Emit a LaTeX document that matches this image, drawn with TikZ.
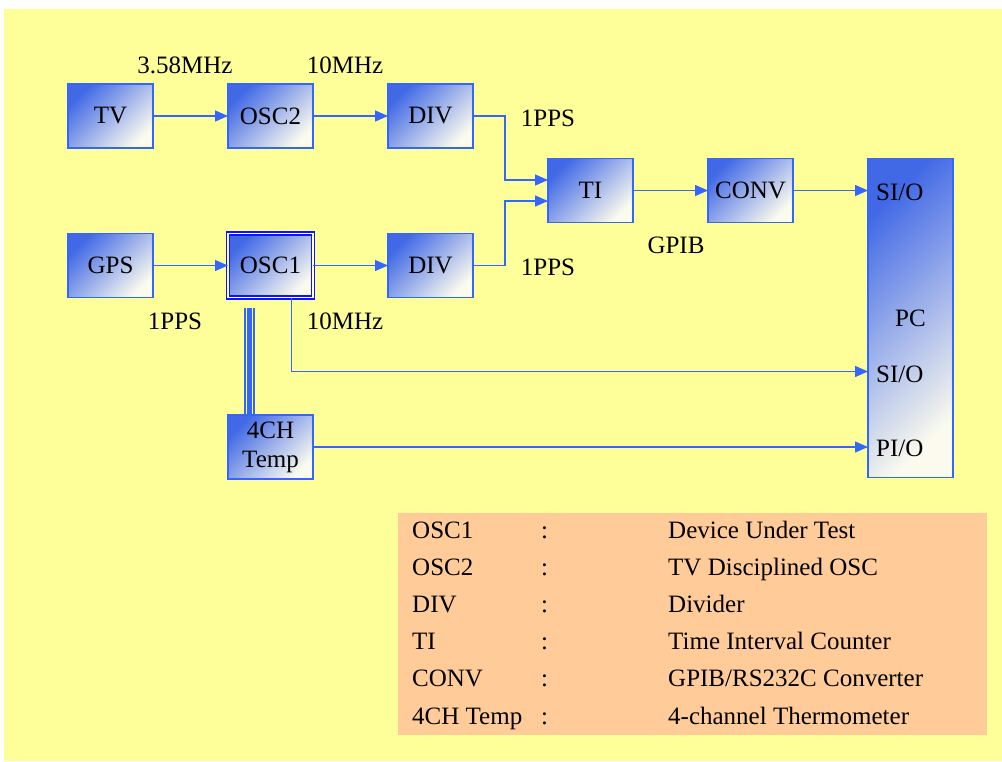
\documentclass[tikz,border=0pt]{standalone}
\usepackage{fontspec}
\setmainfont{Liberation Serif}
\usepackage{tikz}
\usetikzlibrary{arrows.meta,positioning}

\definecolor{bgyellow}{RGB}{255,255,153}
\definecolor{legpeach}{RGB}{255,204,153}
\definecolor{linkblue}{RGB}{51,102,255}
\definecolor{boxblue}{RGB}{65,105,230}
\definecolor{boxwhite}{RGB}{250,250,238}

\tikzset{
  box/.style={draw=linkblue, line width=1.2pt, top color=boxblue, bottom color=boxwhite,
    shading angle=45, minimum width=85pt, minimum height=64pt, inner sep=0pt, outer sep=0pt,
    align=center},
  dut/.style={box, draw=blue!80!linkblue, line width=1.5pt, double=white, double distance=1.3pt},
  link/.style={draw=linkblue, line width=1.4pt, -{Triangle[length=13pt,width=11pt]}},
  lbl/.style={anchor=base, inner sep=0pt}
}

\begin{document}
\begin{tikzpicture}[x=1pt,y=-1pt,every node/.style={font=\fontsize{25}{29}\selectfont}]
\useasboundingbox (0,0) rectangle (1002,761);
\fill[white] (0,0) rectangle (1002,761);
\fill[bgyellow] (4,9) rectangle (1002,761);

% blocks
\node[box] (tv) at (110.5,116) {TV};
\node[box, right=75pt of tv] (osc2) {OSC2};
\node[box, right=75pt of osc2] (div1) {DIV};
\node[box] (ti) at (590.5,190.5) {TI};
\node[box, right=75pt of ti] (conv) {CONV};
\node[box, below=85.5pt of tv] (gps) {GPS};
\node[dut, right=75pt of gps] (osc1) {OSC1};
\node[box, right=75pt of osc1] (div2) {DIV};
\node[box, below=117.5pt of osc1] (temp) {4CH\\Temp};
\node[box, minimum height=319pt, anchor=north west] (pc) at ([xshift=75pt]conv.north east) {PC};
\coordinate (pcmid) at ([yshift=-53.5pt]pc.west);

% signal lines
\draw[link] (tv) -- (osc2);
\draw[link] (osc2) -- (div1);
\draw[link] (div1.east) -- ++(32,0) |- ([yshift=10.5pt]ti.west);
\draw[link] (div2.east) -- ++(32,0) |- ([yshift=-10.5pt]ti.west);
\draw[link] (ti) -- (conv);
\draw[link] (conv) -- (conv -| pc.west);
\draw[link] (gps) -- (osc1);
\draw[link] (osc1) -- (div2);
\draw[link] ([xshift=21pt]osc1.south) |- (pcmid);
\draw[link] (temp) -- (temp -| pc.west);

% sensor cable
\foreach \dx/\lw in {-25.5/2,-20.8/4.5,-16.2/2}
  \draw[linkblue, line width=\lw pt] ([xshift=\dx pt, yshift=-10pt]osc1.south) -- ([xshift=\dx pt]temp.north);

% labels
\node[lbl] (f1) at (185,73) {3.58MHz};
\node[lbl] (f2) at (345,73) {10MHz};
\node[lbl] (p1) at (548,126) {1PPS};
\node[lbl] (p2) at (548,275) {1PPS};
\node[lbl] (gpib) at (676,253) {GPIB};
\node[lbl] (p3) at (175,329) {1PPS};
\node[lbl] (f3) at (345,329) {10MHz};
\node[lbl, anchor=base west] (sio1) at (876,200) {SI/O};
\node[lbl, anchor=base west] (sio2) at (876,382) {SI/O};
\node[lbl, anchor=base west] (pio) at (876,456) {PI/O};

% legend
\node[fill=legpeach, minimum width=589pt, minimum height=222pt, anchor=north west, inner sep=0pt] (legend) at (398,513) {};
\foreach \abbr/\desc [count=\i from 0] in {OSC1/Device Under Test, OSC2/TV Disciplined OSC, DIV/Divider,
    TI/Time Interval Counter, CONV/{GPIB/RS232C Converter}, 4CH Temp/4-channel Thermometer} {
  \node[lbl, anchor=base west] at (412,538+37.2*\i) {\abbr};
  \node[lbl, anchor=base west] at (541,538+37.2*\i) {:};
  \node[lbl, anchor=base west] at (668,538+37.2*\i) {\desc};
}
\end{tikzpicture}
\end{document}
